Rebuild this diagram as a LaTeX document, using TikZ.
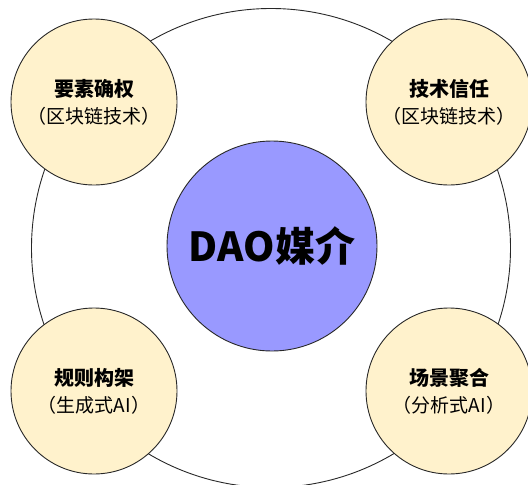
\documentclass[tikz,border=0pt]{standalone}
\usepackage{fontspec}
\setmainfont{Noto Sans CJK SC}
\usepackage{tikz}

\tikzset{
  ring/.style={circle,draw=linecolor,line width=0.9pt,fill=white,minimum size=479pt,inner sep=0pt},
  core/.style={circle,draw=linecolor,line width=0.9pt,fill=corecolor,minimum size=210pt,inner sep=0pt,
    font=\fontsize{40}{44}\selectfont\bfseries},
  topic/.style={circle,draw=linecolor,line width=0.9pt,fill=topiccolor,minimum size=166pt,inner sep=0pt,
    align=center,font=\fontsize{19}{27}\selectfont}
}
\newcommand{\headline}[1]{{\fontsize{20}{27}\selectfont\bfseries #1}}

\begin{document}
\begin{tikzpicture}[x=1pt,y=-1pt]
\definecolor{topiccolor}{RGB}{255,242,204}
\definecolor{corecolor}{RGB}{153,153,255}
\definecolor{linecolor}{RGB}{40,40,40}
\clip (0,0) rectangle (528,485);
% outer ring and centre
\node [ring] (ring) at (271,248) {};
\node [core] (dao) at (272,246) {DAO媒介};
% four topics
\node [topic] (rights) at (94,102) {\headline{要素确权}\\（区块链技术）};
\node [topic] (trust) at (449,102) {\headline{技术信任}\\（区块链技术）};
\node [topic] (rules) at (94,391) {\headline{规则构架}\\（生成式AI）};
\node [topic] (scene) at (449,391) {\headline{场景聚合}\\（分析式AI）};
\end{tikzpicture}
\end{document}
